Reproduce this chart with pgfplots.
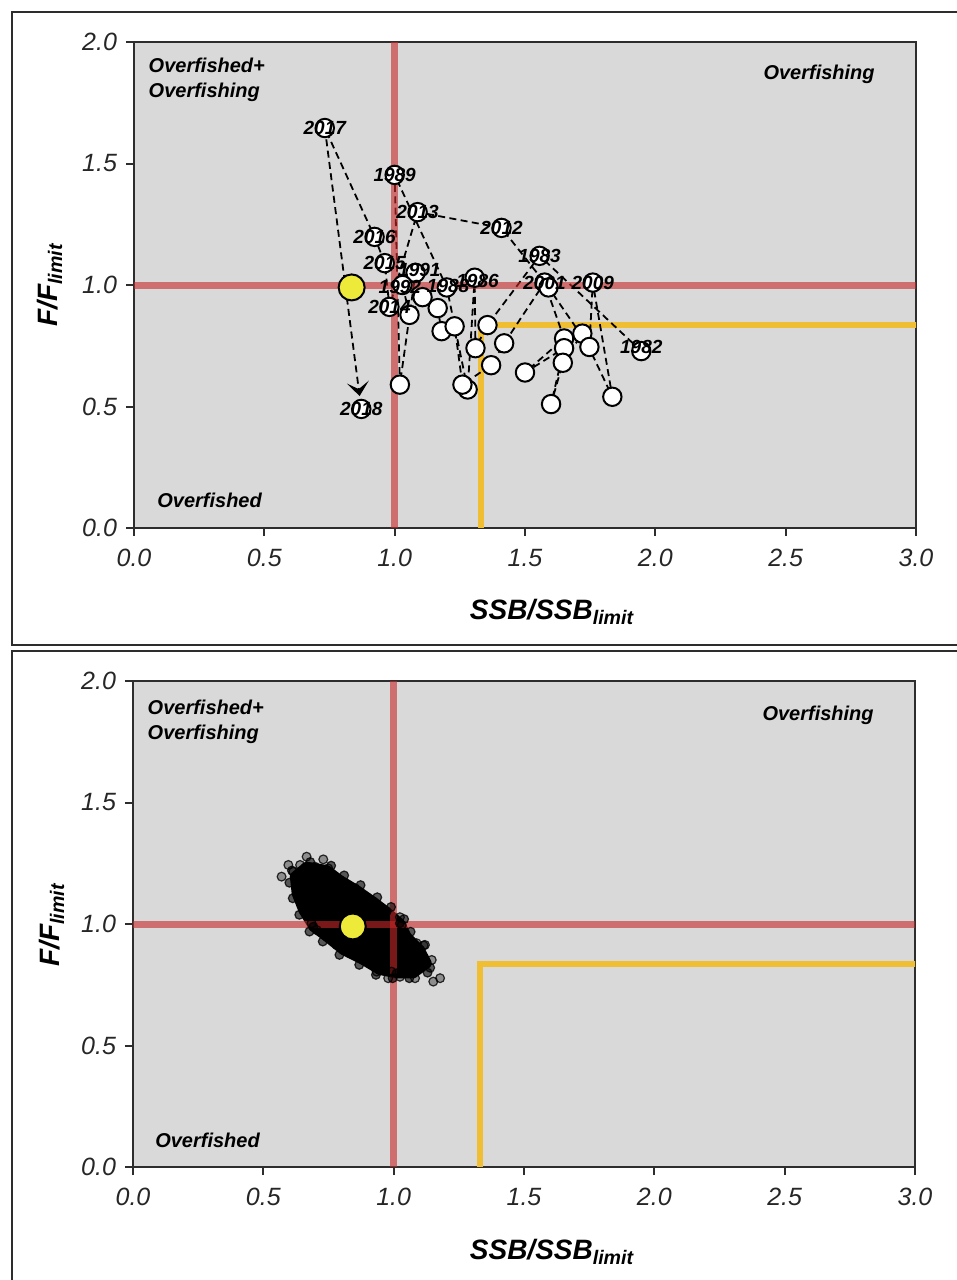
\documentclass[border=0pt]{standalone}
\usepackage{fontspec}
\setmainfont{Liberation Sans}
\usepackage{pgfplots}
\usepackage{pgfplotstable}
\pgfplotsset{compat=1.18}
\usetikzlibrary{arrows.meta}

\definecolor{panelgray}{RGB}{217,217,217}
\definecolor{limred}{RGB}{200,40,40}
\definecolor{targetgold}{RGB}{240,190,50}
\definecolor{nowyellow}{RGB}{238,234,58}
\definecolor{framegray}{RGB}{45,45,45}

% SSB/SSB_limit and F/F_limit by year
\pgfplotstableread{
year ssb f
1982 1.946 0.728
1983 1.556 1.120
1984 1.356 0.835
1985 1.310 0.740
1986 1.307 1.030
1987 1.280 0.570
1988 1.200 0.990
1989 1.000 1.453
1990 1.020 0.590
1991 1.080 1.050
1992 1.030 1.000
1993 1.057 0.877
1994 1.107 0.950
1995 1.165 0.905
1996 1.180 0.810
1997 1.230 0.830
1998 1.260 0.590
1999 1.370 0.670
2000 1.420 0.760
2001 1.575 1.010
2002 1.650 0.780
2003 1.500 0.640
2004 1.650 0.740
2005 1.600 0.510
2006 1.645 0.680
2007 1.720 0.800
2008 1.835 0.540
2009 1.760 1.010
2010 1.747 0.745
2011 1.590 0.990
2012 1.410 1.235
2013 1.088 1.300
2014 0.980 0.910
2015 0.962 1.090
2016 0.923 1.198
2017 0.732 1.646
}\trajectory

\pgfplotstableread{
ssb f lab
1.946 0.745 1982
1.556 1.120 1983
1.318 1.018 1986
1.205 0.995 1988
1.000 1.453 1989
1.095 1.062 1991
1.020 0.990 1992
1.575 1.010 2001
1.760 1.010 2009
1.410 1.235 2012
1.088 1.300 2013
0.980 0.910 2014
0.962 1.090 2015
0.923 1.198 2016
0.732 1.646 2017
0.872 0.490 2018
}\yearlabels

% dense core of the projection cloud
\pgfplotstableread{
ssb f
0.621 1.195
0.666 1.236
0.743 1.222
0.794 1.181
0.858 1.140
0.922 1.092
0.973 1.051
1.024 1.003
1.050 0.948
1.101 0.893
1.127 0.838
1.075 0.797
1.011 0.797
0.947 0.811
0.883 0.852
0.807 0.893
0.743 0.948
0.692 0.989
0.653 1.058
0.628 1.126
}\cloudcore

% draws just outside the core
\pgfplotstableread{
ssb f
0.680 1.255
0.760 1.240
0.810 1.200
0.873 1.160
0.937 1.110
0.990 1.070
1.040 1.020
1.065 0.968
1.115 0.912
1.060 0.777
0.996 0.777
0.932 0.791
0.868 0.832
0.792 0.873
0.728 0.928
0.677 0.969
0.638 1.038
0.613 1.106
0.600 1.170
0.610 1.220
1.140 0.820
1.130 0.800
}\cloudring

% scattered draws further out
\pgfplotstableread{
ssb f
0.570 1.195
0.596 1.243
0.641 1.243
0.666 1.277
0.730 1.266
0.749 1.229
0.852 1.147
0.884 1.106
0.941 1.058
1.024 1.028
1.031 0.996
1.120 0.914
1.146 0.852
1.178 0.777
1.152 0.763
1.082 0.777
1.024 0.783
0.979 0.777
0.935 0.804
0.705 0.975
0.685 1.003
0.615 1.215
0.698 1.236
1.075 0.852
1.101 0.824
1.056 0.811
0.832 0.879
0.781 0.914
0.992 0.804
1.088 0.921
}\cloudedge

\pgfplotsset{
  kobe/.style={
    scale only axis,
    width=391pt, height=243pt,
    xmin=0, xmax=3, ymin=0, ymax=2,
    xtick={0,0.5,...,3}, ytick={0,0.5,...,2},
    tick pos=left,
    tick align=outside,
    major tick length=4pt,
    axis background/.style={fill=panelgray},
    axis line style={framegray, line width=1.2pt},
    every tick/.style={framegray, line width=1pt},
    /pgf/number format/fixed,
    /pgf/number format/fixed zerofill,
    /pgf/number format/precision=1,
    /pgf/number format/assume math mode=true,
    ticklabel style={font=\fontsize{12.5}{14}\selectfont\itshape, text=black!85},
    xticklabel style={yshift=-3pt},
    yticklabel style={xshift=-1pt},
  },
  trajline/.style={black, line width=0.9pt, dash pattern=on 3.5pt off 2.2pt},
  drawmark/.style={only marks, mark=*, mark size=2.2pt,
    mark options={fill=black, fill opacity=#1, draw=black, draw opacity=0.8, line width=0.6pt}},
}

\newcommand{\quadfont}{\fontsize{10}{12.5}\selectfont\bfseries\itshape}
\newcommand{\labfont}{\fontsize{14}{16}\selectfont\bfseries\itshape}

\begin{document}
\begin{tikzpicture}
\useasboundingbox (0pt,0pt) rectangle (478.5pt,-640pt);

% panel frames
\draw[framegray, line width=1.3pt] (6pt,-6pt) rectangle (490pt,-322.5pt);
\draw[framegray, line width=1.3pt] (6pt,-325.5pt) rectangle (490pt,-660pt);

% ---------------- upper panel: trajectory ----------------
\begin{axis}[kobe, at={(67pt,-264pt)}, anchor=south west]
  \addplot[targetgold, line width=3pt, line join=miter] coordinates {(1.333,0) (1.333,0.835) (3.05,0.835)};
  \addplot[trajline] table[x=ssb, y=f] {\trajectory};
  \addplot[trajline, -{Stealth[length=7pt, width=11pt, inset=3.5pt]}, shorten >=6.5pt]
           coordinates {(0.732,1.646) (0.872,0.490)};
  \addplot[only marks, mark=*, mark size=4.6pt,
           mark options={fill=white, draw=black, line width=1pt}]
           table[x=ssb, y=f] {\trajectory};
  \addplot[only marks, mark=*, mark size=4.6pt,
           mark options={fill=white, draw=black, line width=1pt}]
           coordinates {(0.872,0.490)};
  \addplot[limred, opacity=0.6, line width=3.5pt] coordinates {(1,0) (1,2)};
  \addplot[limred, opacity=0.6, line width=3.5pt] coordinates {(0,1) (3,1)};
  \addplot[draw=none, nodes near coords, point meta=explicit symbolic,
           every node near coord/.style={anchor=center, inner sep=0pt,
             font=\fontsize{9.5}{10}\selectfont\bfseries\itshape, text=black}]
           table[x=ssb, y=f, meta=lab] {\yearlabels};
  \addplot[only marks, mark=*, mark size=6.5pt,
           mark options={fill=nowyellow, draw=black, line width=1pt}]
           coordinates {(0.835,0.990)};
  \node[anchor=north west, align=left, font=\quadfont, inner sep=0pt] at (axis cs:0.055,1.935) {Overfished+\\Overfishing};
  \node[anchor=north east, font=\quadfont, inner sep=0pt] at (axis cs:2.843,1.905) {Overfishing};
  \node[anchor=base west, font=\quadfont, inner sep=0pt] at (axis cs:0.088,0.086) {Overfished};
\end{axis}
\node[font=\labfont] at (276pt,-306pt) {SSB/SSB\textsubscript{limit}};
\node[font=\labfont, rotate=90] at (25pt,-142.5pt) {F/F\textsubscript{limit}};

% ---------------- lower panel: projection draws ----------------
\begin{axis}[kobe, at={(66.5pt,-583.5pt)}, anchor=south west]
  \addplot[targetgold, line width=3pt, line join=miter] coordinates {(1.333,0) (1.333,0.835) (3.05,0.835)};
  \addplot[fill=black, draw=black, line width=5pt, line join=round] table[x=ssb, y=f] {\cloudcore} -- cycle;
  \addplot[drawmark=0.6] table[x=ssb, y=f] {\cloudring};
  \addplot[drawmark=0.35] table[x=ssb, y=f] {\cloudedge};
  \addplot[drawmark=0.7] table[x=ssb, y=f] {\cloudcore};
  \addplot[limred, opacity=0.6, line width=3.5pt] coordinates {(1,0) (1,2)};
  \addplot[limred, opacity=0.6, line width=3.5pt] coordinates {(0,1) (3,1)};
  \addplot[only marks, mark=*, mark size=6.5pt,
           mark options={fill=nowyellow, draw=black, line width=1pt}]
           coordinates {(0.843,0.990)};
  \node[anchor=north west, align=left, font=\quadfont, inner sep=0pt] at (axis cs:0.055,1.925) {Overfished+\\Overfishing};
  \node[anchor=north east, font=\quadfont, inner sep=0pt] at (axis cs:2.843,1.9) {Overfishing};
  \node[anchor=base west, font=\quadfont, inner sep=0pt] at (axis cs:0.084,0.082) {Overfished};
\end{axis}
\node[font=\labfont] at (276pt,-626pt) {SSB/SSB\textsubscript{limit}};
\node[font=\labfont, rotate=90] at (26pt,-462.5pt) {F/F\textsubscript{limit}};
\end{tikzpicture}
\end{document}
